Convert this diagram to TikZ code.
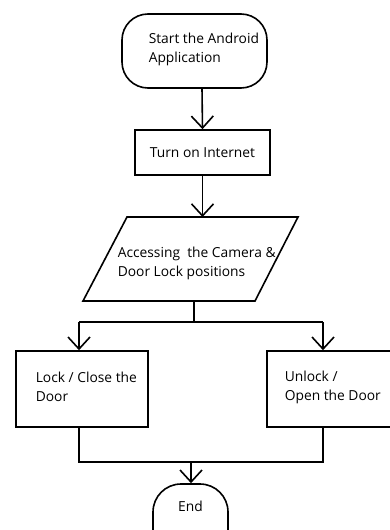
\documentclass[tikz,border=0pt]{standalone}
\usepackage{fontspec}
\setmainfont{Open Sans}
\usetikzlibrary{arrows.meta}
\begin{document}
\begin{tikzpicture}[x=1pt,y=-1pt,
  line width=1.6pt,
  arr/.style={-{Straight Barb[length=12pt,width=22pt,line width=1.6pt]}},
  txt/.style={font=\fontsize{13.8}{19}\selectfont},
  lbl/.style={txt,anchor=west,align=left,inner sep=0pt},
  boxshape/.style={draw,rectangle,inner sep=0pt}]
\useasboundingbox (0,0) rectangle (390,530);
\clip (0,0) rectangle (390,530);
% start
\draw[rounded corners=26pt] (122,14) rectangle (267,88);
\node[lbl] (starttext) at (148,49) {Start the Android\\Application};
\coordinate (startbot) at (202,88);
% turn on internet
\node[boxshape,txt,minimum width=135pt,minimum height=45pt] (turn) at (202.5,152.5) {Turn on Internet};
\draw[arr] (startbot) -- (turn.north);
% parallelogram
\draw (127,217) -- (298,217) -- (255,301) -- (83,301) -- cycle;
\coordinate (paratop) at (202.5,217);
\coordinate (parabot) at (194,301);
\node[lbl] (paratext) at (117,263) {Accessing\ \ the Camera \&\\Door Lock positions};
\draw[arr] (turn.south) -- (paratop);
% branches
\coordinate (split) at (194,322);
\coordinate (splitL) at (79,322);
\coordinate (splitR) at (323,322);
\node[boxshape,minimum width=132pt,minimum height=76pt] (lock) at (82,389) {};
\node[boxshape,minimum width=133pt,minimum height=76pt] (unlock) at (333.5,389) {};
\node[lbl] (locktext) at (35,387) {Lock / Close the\\Door};
\node[lbl] (unlocktext) at (284,387) {Unlock /\\Open the Door};
\draw (parabot) -- (split);
\draw (splitL) -- (splitR);
\draw[arr] (splitL) -- (splitL |- lock.north);
\draw[arr] (splitR) -- (splitR |- unlock.north);
% merge
\coordinate (mergeL) at (79,462);
\coordinate (mergeR) at (323,462);
\coordinate (mergeC) at (191,462);
\draw (mergeL |- lock.south) -- (mergeL) -- (mergeR) -- (mergeR |- unlock.south);
% end
\node[draw,rectangle,rounded corners=28pt,minimum width=75pt,minimum height=84pt,inner sep=0pt] (endshape) at (190.5,526) {};
\node[txt,inner sep=0pt] (endtext) at (190.5,506) {End};
\draw[arr] (mergeC) -- (mergeC |- endshape.north);
\end{tikzpicture}
\end{document}
